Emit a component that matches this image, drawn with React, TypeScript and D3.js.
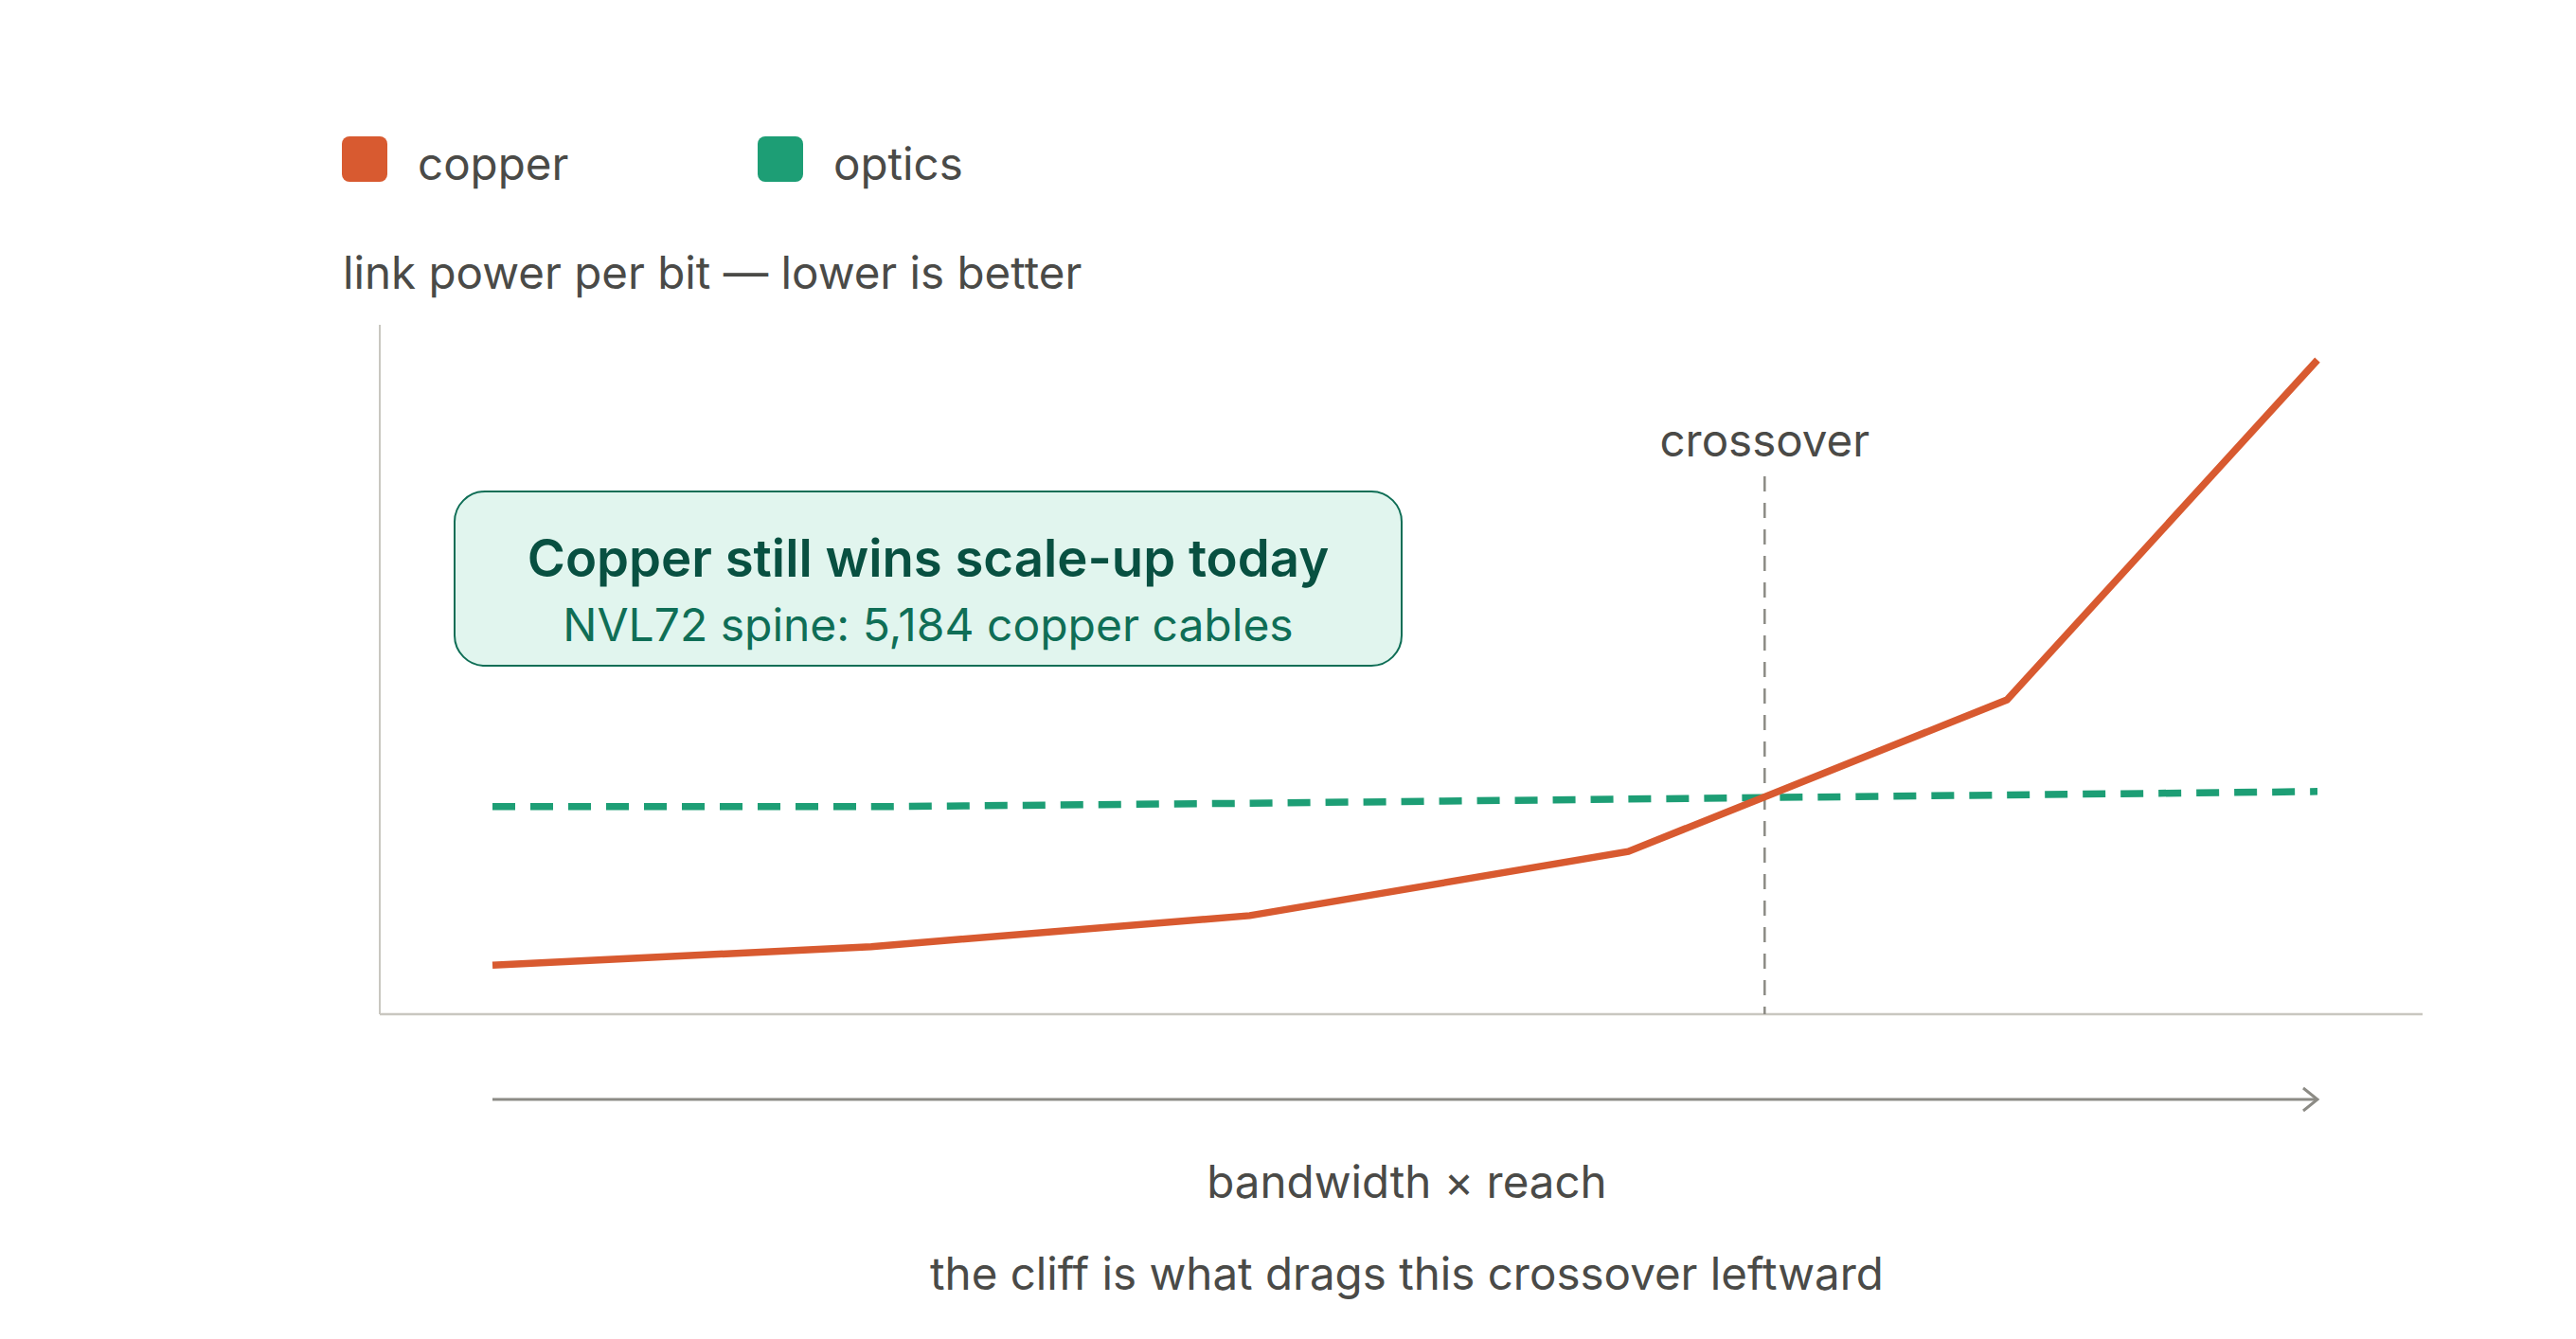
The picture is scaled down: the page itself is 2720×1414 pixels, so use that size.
import React from "react";
import * as d3 from "d3";

// ---- data ----
const seriesNames = ["copper", "optics"];
const xSteps = [0, 1, 2, 3, 4, 4.82]; // bandwidth × reach (relative)
const copperPower = [0.71, 0.98, 1.43, 2.36, 4.56, 9.49];
const opticsPower = [3.01, 3.01, 3.06, 3.12, 3.18, 3.23];
const crossoverAt = 3.36;

const yLabel = "link power per bit — lower is better";
const xLabel = "bandwidth × reach";
const footnote = "the cliff is what drags this crossover leftward";
const crossoverLabel = "crossover";
const calloutTitle = "Copper still wins scale-up today";
const calloutSub = "NVL72 spine: 5,184 copper cables";

// ---- style ----
const W = 2720;
const H = 1414;
const COPPER = "#D85A30";
const OPTICS = "#1D9E75";
const TEXT = "#4A4A47";
const AXIS = "#C9C7C0";
const GUIDE = "#8C8B85";
const FONT = "Inter, 'Noto Sans', sans-serif";
const LABEL_SIZE = 47.5;

const plot = { left: 401, right: 2558, top: 343, bottom: 1071 };

export default function App() {
  const x = d3.scaleLinear().domain([0, 4.82]).range([520, 2447]);
  const y = d3.scaleLinear().domain([0, 10]).range([plot.bottom, plot.top]);

  const copperPts = xSteps.map((v, i) => [v, copperPower[i]] as [number, number]);
  const opticsPts = xSteps.map((v, i) => [v, opticsPower[i]] as [number, number]);
  const line = d3
    .line<[number, number]>()
    .x((d) => x(d[0]))
    .y((d) => y(d[1]));

  const opticsSegments = d3.pairs(opticsPts);

  const colors = [COPPER, OPTICS];
  const legendX = [361, 800];

  const arrowY = 1161;
  const arrowX0 = x(xSteps[0]);
  const arrowX1 = x(xSteps[xSteps.length - 1]);
  const cx = (arrowX0 + arrowX1) / 2 + 2;

  const box = { x: 480, y: 519, w: 1000, h: 184 };

  return (
    <svg
      width={W}
      height={H}
      viewBox={`0 0 ${W} ${H}`}
      style={{ position: "absolute", left: 0, top: 0, background: "#fff" }}
      fontFamily={FONT}
    >
      {/* legend */}
      {seriesNames.map((name, i) => (
        <g key={name}>
          <rect x={legendX[i]} y={144} width={48} height={48} rx={8} fill={colors[i]} />
          <text x={legendX[i] + 80} y={190} fontSize={LABEL_SIZE} fill={TEXT}>
            {name}
          </text>
        </g>
      ))}

      {/* y label */}
      <text x={362} y={305} fontSize={LABEL_SIZE} fill={TEXT}>
        {yLabel}
      </text>

      {/* axes */}
      <line x1={plot.left} x2={plot.left} y1={plot.top} y2={plot.bottom} stroke={AXIS} strokeWidth={2} />
      <line x1={plot.left} x2={plot.right} y1={plot.bottom} y2={plot.bottom} stroke={AXIS} strokeWidth={2.5} />

      {/* crossover guide */}
      <line
        x1={x(crossoverAt)}
        x2={x(crossoverAt)}
        y1={503}
        y2={plot.bottom}
        stroke={GUIDE}
        strokeWidth={2.5}
        strokeDasharray="16 12"
      />
      <text x={x(crossoverAt)} y={482} fontSize={LABEL_SIZE} fill={TEXT} textAnchor="middle">
        {crossoverLabel}
      </text>

      {/* optics (dashed, per segment) */}
      {opticsSegments.map((seg, i) => (
        <path
          key={i}
          d={line(seg) || ""}
          fill="none"
          stroke={OPTICS}
          strokeWidth={7.5}
          strokeDasharray="24 16"
        />
      ))}

      {/* copper */}
      <path d={line(copperPts) || ""} fill="none" stroke={COPPER} strokeWidth={7.5} strokeLinejoin="miter" />

      {/* callout */}
      <rect x={box.x} y={box.y} width={box.w} height={box.h} rx={32} fill="#E1F5EE" stroke="#0F6E56" strokeWidth={2} />
      <text x={box.x + box.w / 2} y={609} fontSize={54.5} fontWeight={600} fill="#085041" textAnchor="middle">
        {calloutTitle}
      </text>
      <text x={box.x + box.w / 2} y={677} fontSize={48} fill="#0F6E56" textAnchor="middle">
        {calloutSub}
      </text>

      {/* direction arrow */}
      <line x1={arrowX0} x2={arrowX1} y1={arrowY} y2={arrowY} stroke={GUIDE} strokeWidth={3} />
      <polyline
        points={`${arrowX1 - 15},${arrowY - 12} ${arrowX1},${arrowY} ${arrowX1 - 15},${arrowY + 12}`}
        fill="none"
        stroke={GUIDE}
        strokeWidth={3}
      />

      <text x={cx} y={1265} fontSize={LABEL_SIZE} fill={TEXT} textAnchor="middle">
        {xLabel}
      </text>
      <text x={cx} y={1362} fontSize={LABEL_SIZE} fill={TEXT} textAnchor="middle">
        {footnote}
      </text>
    </svg>
  );
}
